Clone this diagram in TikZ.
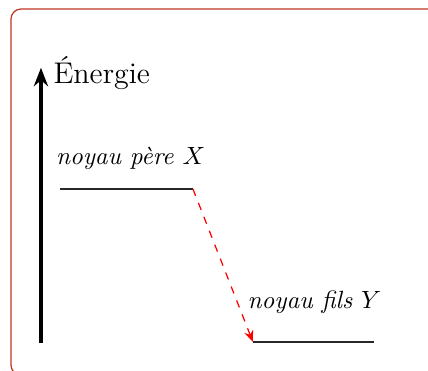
\documentclass[tikz,border=0pt]{standalone}
\usepackage{tikz}
\usetikzlibrary{arrows.meta,positioning}
\definecolor{framered}{RGB}{190,55,35}
\definecolor{levelgray}{RGB}{40,40,40}
\tikzset{
  cadre/.style={draw=framered,line width=0.5pt,rounded corners=1.4mm},
  axe/.style={-{Stealth[length=2.6mm,width=2mm]},line width=1.3pt},
  niveau/.style={draw=levelgray,line width=0.5pt},
  transition/.style={-{Stealth[length=1.6mm,width=1.3mm]},dashed,draw=red,line width=0.5pt},
  etiquette/.style={font=\itshape,inner sep=1pt}
}
\begin{document}
\begin{tikzpicture}
  \useasboundingbox (0,0) rectangle (6.03,5.225);
  \draw[cadre] (0.155,-0.06) rectangle (6.2,5.098);
  % axe des energies
  \coordinate (bas) at (0.577,0.394);
  \coordinate (haut) at (0.577,4.27);
  \draw[axe] (bas) -- (haut);
  \node[right=0.17cm of haut,yshift=-0.08cm,font=\large,inner sep=0pt] (energie) {Énergie};
  % niveaux
  \coordinate (pereA) at (0.845,2.563);
  \coordinate (pereB) at (2.718,2.563);
  \coordinate (filsA) at (3.563,0.408);
  \coordinate (filsB) at (5.268,0.408);
  \draw[niveau] (pereA) -- (pereB);
  \draw[niveau] (filsA) -- (filsB);
  \node[etiquette] (pere) at (1.84,3.0) {noyau père $X$};
  \node[etiquette] (fils) at (4.43,0.97) {noyau fils $Y$};
  \draw[transition] (pereB) -- (filsA);
\end{tikzpicture}
\end{document}
